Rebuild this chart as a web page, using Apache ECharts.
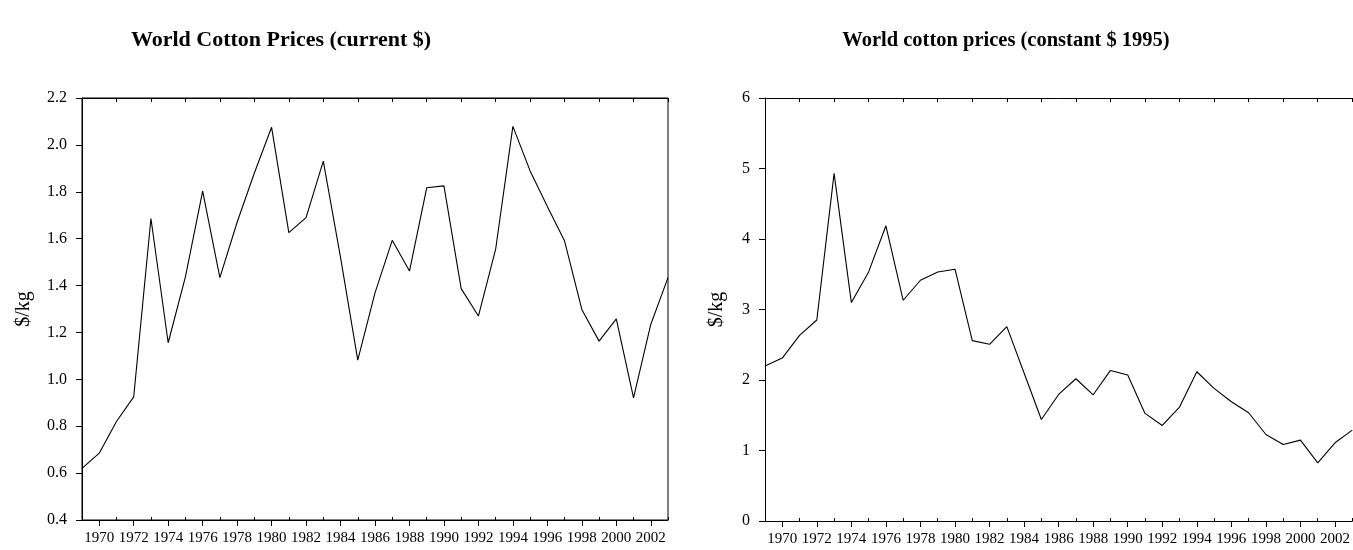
<!DOCTYPE html>
<html><head><meta charset="utf-8">
<script src="https://cdn.jsdelivr.net/npm/echarts@6/dist/echarts.min.js"></script>
<style>html,body{margin:0;padding:0;background:#fff}#c{width:1353px;height:550px}</style>
</head><body><div id="c"></div>
<script>
const years = [];
for (let y = 1969; y <= 2003; y++) years.push(String(y));
const currentPrices = [0.62,0.685,0.82,0.925,1.686,1.156,1.437,1.803,1.434,1.67,1.88,2.075,1.626,1.69,1.931,1.52,1.082,1.369,1.593,1.462,1.817,1.825,1.387,1.27,1.555,2.079,1.889,1.737,1.59,1.298,1.163,1.258,0.921,1.234,1.434];
const constantPrices = [2.198,2.311,2.634,2.851,4.93,3.098,3.533,4.187,3.131,3.415,3.533,3.571,2.558,2.506,2.757,2.1,1.44,1.795,2.018,1.79,2.136,2.07,1.526,1.355,1.616,2.117,1.881,1.691,1.535,1.227,1.085,1.147,0.825,1.109,1.289];
const titles = ['World Cotton Prices (current $)', 'World cotton prices (constant $ 1995)'];
const yName = '$/kg';

const FONT = 'Liberation Serif';
const isEven = (i, v) => Number(v) % 2 === 0;
const isOdd = (i, v) => Number(v) % 2 === 1;
const black = '#000';

function xAxes(gi) {
  return [
    { type: 'category', gridIndex: gi, data: years, boundaryGap: false, position: 'bottom',
      axisLine: { lineStyle: { color: black, width: 1 } },
      axisTick: { show: true, inside: false, length: 6, interval: isEven, lineStyle: { color: black } },
      axisLabel: { interval: isEven, color: black, fontFamily: FONT, fontSize: 15, margin: 11 },
      splitLine: { show: false } },
    { type: 'category', gridIndex: gi, data: years, boundaryGap: false, position: 'bottom',
      axisLine: { show: false },
      axisTick: { show: true, inside: true, length: 3, interval: isOdd, lineStyle: { color: black } },
      axisLabel: { show: false }, splitLine: { show: false } },
    { type: 'category', gridIndex: gi, data: years, boundaryGap: false, position: 'top',
      axisLine: { lineStyle: { color: black, width: 1 } },
      axisTick: { show: true, inside: true, length: 4, interval: isOdd, lineStyle: { color: black } },
      axisLabel: { show: false }, splitLine: { show: false } }
  ];
}

function yAxis(gi, min, max, interval, fmt, gap) {
  return { type: 'value', gridIndex: gi, min, max, interval, position: 'left',
    name: yName, nameLocation: 'middle', nameGap: gap, nameRotate: 90,
    nameTextStyle: { color: black, fontFamily: FONT, fontSize: 20 },
    axisLine: { show: true, lineStyle: { color: black, width: 1 } },
    axisTick: { show: true, inside: false, length: 6, lineStyle: { color: black } },
    axisLabel: { color: black, fontFamily: FONT, fontSize: 16, margin: 15, formatter: fmt },
    splitLine: { show: false } };
}

const chart = echarts.init(document.getElementById('c'), null, { renderer: 'canvas' });
chart.setOption({
  animation: false,
  backgroundColor: '#fff',
  title: [
    { text: titles[0], left: 276, top: 24, textAlign: 'center',
      textStyle: { fontFamily: FONT, fontWeight: 'bold', fontSize: 22, color: black } },
    { text: titles[1], left: 1001, top: 25, textAlign: 'center',
      textStyle: { fontFamily: FONT, fontWeight: 'bold', fontSize: 20.5, color: black } }
  ],
  grid: [
    { left: 82, top: 98, width: 586, height: 422, show: true, borderColor: black, borderWidth: 1, backgroundColor: 'transparent' },
    { left: 765, top: 98, width: 589, height: 423, show: false }
  ],
  xAxis: [...xAxes(0), ...xAxes(1)],
  yAxis: [
    yAxis(0, 0.4, 2.2, 0.2, v => v.toFixed(1), 48),
    yAxis(1, 0, 6, 1, v => String(v), 38)
  ],
  series: [
    { type: 'line', xAxisIndex: 0, yAxisIndex: 0, data: currentPrices, symbol: 'none',
      lineStyle: { color: black, width: 1.1 }, silent: true },
    { type: 'line', xAxisIndex: 3, yAxisIndex: 1, data: constantPrices, symbol: 'none',
      lineStyle: { color: black, width: 1.1 }, silent: true }
  ]
});
</script></body></html>
